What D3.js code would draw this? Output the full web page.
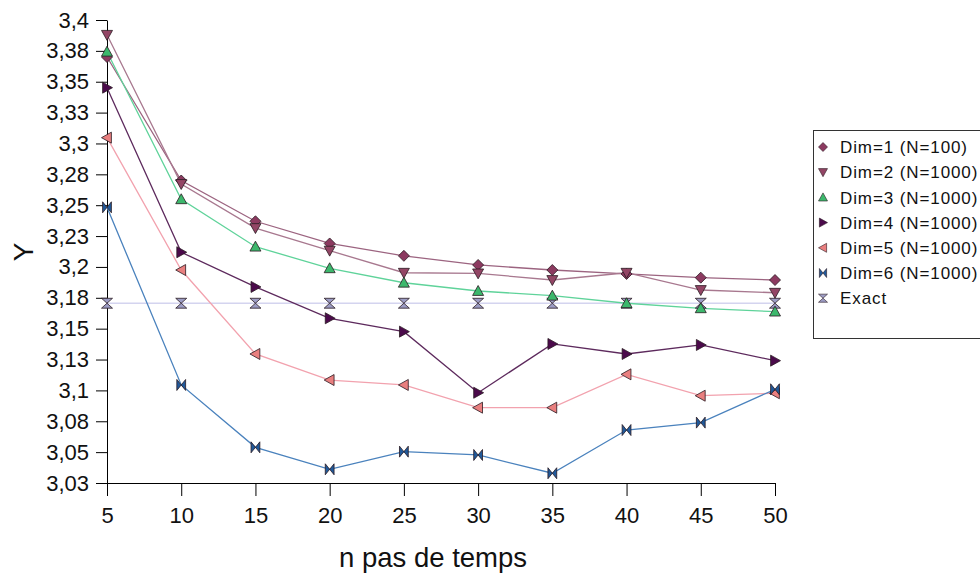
<!DOCTYPE html>
<html>
<head>
<meta charset="utf-8">
<script src="https://cdn.jsdelivr.net/npm/d3@7/dist/d3.min.js"></script>
<style>
  html, body { margin: 0; padding: 0; background: #ffffff; }
  svg { display: block; font-family: "Liberation Sans", Arial, sans-serif; }
</style>
</head>
<body>
<svg id="chart" width="980" height="578"></svg>
<script>
// Time steps on the x axis
const steps = [5, 10, 15, 20, 25, 30, 35, 40, 45, 50];

// Estimated Y for each dimension / sample size
const dim1 = [3.370, 3.270, 3.237, 3.219, 3.209, 3.2016, 3.1975, 3.1943, 3.1913, 3.1894];
const dim2 = [3.388, 3.2672, 3.2315, 3.2132, 3.1953, 3.1948, 3.1894, 3.1953, 3.1813, 3.1791];
const dim3 = [3.3743, 3.2548, 3.2164, 3.1989, 3.1872, 3.1805, 3.1767, 3.1706, 3.1665, 3.1638];
const dim4 = [3.3452, 3.2119, 3.1838, 3.1584, 3.1476, 3.0981, 3.1376, 3.1295, 3.1368, 3.1241];
const dim5 = [3.3047, 3.1975, 3.1295, 3.1084, 3.1044, 3.0860, 3.0860, 3.1130, 3.0957, 3.0977];
const dim6 = [3.2483, 3.1044, 3.0539, 3.0361, 3.0504, 3.0477, 3.0329, 3.0679, 3.0739, 3.1009];
const exact = [3.1706, 3.1706, 3.1706, 3.1706, 3.1706, 3.1706, 3.1706, 3.1706, 3.1706, 3.1706];

const seriesNames = ["Dim=1 (N=100)", "Dim=2 (N=1000)", "Dim=3 (N=1000)", "Dim=4 (N=1000)",
                     "Dim=5 (N=1000)", "Dim=6 (N=1000)", "Exact"];

// Y axis ticks every 0.025, labelled with two decimals (comma separator)
const yTickValues = [3.025, 3.05, 3.075, 3.1, 3.125, 3.15, 3.175, 3.2, 3.225, 3.25,
                     3.275, 3.3, 3.325, 3.35, 3.375, 3.4];
const yTickLabels = ["3,03", "3,05", "3,08", "3,1", "3,13", "3,15", "3,18", "3,2", "3,23", "3,25",
                     "3,28", "3,3", "3,33", "3,35", "3,38", "3,4"];
const xTickLabels = ["5", "10", "15", "20", "25", "30", "35", "40", "45", "50"];

const svg = d3.select("#chart");

const x = d3.scaleLinear().domain([5, 50]).range([107, 775]);
const y = d3.scaleLinear().domain([3.025, 3.4]).range([483, 20]);

// Marker outlines
function markerPath(shape, r) {
  switch (shape) {
    case "diamond": return `M0,${-r}L${r},0L0,${r}L${-r},0Z`;
    case "down": return `M${-r},${-r * 0.8}L${r},${-r * 0.8}L0,${r}Z`;
    case "up": return `M${-r},${r * 0.8}L${r},${r * 0.8}L0,${-r}Z`;
    case "right": return `M${-r * 0.8},${-r}L${r},0L${-r * 0.8},${r}Z`;
    case "left": return `M${r * 0.8},${-r}L${-r},0L${r * 0.8},${r}Z`;
    case "bowtie": return `M${-r * 0.8},${-r}L0,0L${-r * 0.8},${r}Z M${r * 0.8},${-r}L0,0L${r * 0.8},${r}Z`;
    case "hourglass": return `M${-r},${-r * 0.9}L${r},${-r * 0.9}L0,0Z M${-r},${r * 0.9}L${r},${r * 0.9}L0,0Z`;
  }
}

const series = [
  { name: seriesNames[0], values: dim1, shape: "diamond", fill: "#8c3a60", line: "#9c6480" },
  { name: seriesNames[1], values: dim2, shape: "down", fill: "#934565", line: "#a8788f" },
  { name: seriesNames[2], values: dim3, shape: "up", fill: "#3cb86c", line: "#5fd39a" },
  { name: seriesNames[3], values: dim4, shape: "right", fill: "#4b0a4b", line: "#5d2a5d" },
  { name: seriesNames[4], values: dim5, shape: "left", fill: "#e97f7f", line: "#f2a2ae" },
  { name: seriesNames[5], values: dim6, shape: "bowtie", fill: "#20599a", line: "#4a82bd" },
  { name: seriesNames[6], values: exact, shape: "hourglass", fill: "#9c9cc4", line: "#d4d4ef" }
];

// Axes
const yAxis = d3.axisLeft(y)
  .tickValues(yTickValues)
  .tickFormat((d, i) => yTickLabels[i])
  .tickSize(11)
  .tickSizeOuter(0)
  .tickPadding(7);

const xAxis = d3.axisBottom(x)
  .tickValues(steps)
  .tickFormat((d, i) => xTickLabels[i])
  .tickSize(13)
  .tickSizeOuter(0)
  .tickPadding(11);

const gy = svg.append("g").attr("transform", "translate(107,0)").call(yAxis);
gy.selectAll("text").attr("font-size", 22).attr("fill", "#111")
  .style("font-family", "'Liberation Sans', Arial, sans-serif");
gy.selectAll("line, path").attr("stroke", "#000");

const gx = svg.append("g").attr("transform", "translate(0,483)").call(xAxis);
gx.selectAll("text").attr("font-size", 22).attr("fill", "#111")
  .style("font-family", "'Liberation Sans', Arial, sans-serif");
gx.selectAll("line, path").attr("stroke", "#000");

// Lines: the exact reference first, underneath everything
const line = d3.line().x((d, i) => x(steps[i])).y(d => y(d));
const drawOrder = [6, 0, 1, 2, 3, 4, 5];
drawOrder.forEach(k => {
  const s = series[k];
  svg.append("path")
    .attr("d", line(s.values))
    .attr("fill", "none")
    .attr("stroke", s.line)
    .attr("stroke-width", 1.3);
});

// Markers
drawOrder.forEach(k => {
  const s = series[k];
  svg.append("g").selectAll("path")
    .data(s.values)
    .join("path")
    .attr("transform", (d, i) => `translate(${x(steps[i])},${y(d)})`)
    .attr("d", markerPath(s.shape, 5.5))
    .attr("fill", s.fill)
    .attr("stroke", "#2a1a22")
    .attr("stroke-width", 0.8)
    .attr("stroke-linejoin", "round");
});

// Axis titles
svg.append("text")
  .attr("x", 433).attr("y", 567)
  .attr("text-anchor", "middle")
  .attr("font-size", 27.5)
  .attr("fill", "#111")
  .text("n pas de temps");

svg.append("text")
  .attr("transform", "translate(33,252) rotate(-90)")
  .attr("text-anchor", "middle")
  .attr("font-size", 28)
  .attr("fill", "#111")
  .text("Y");

// Legend
const legend = svg.append("g");
legend.append("rect")
  .attr("x", 813.5).attr("y", 130.5)
  .attr("width", 200).attr("height", 208)
  .attr("fill", "#fff")
  .attr("stroke", "#333")
  .attr("stroke-width", 1);

series.forEach((s, i) => {
  const cy = 147 + i * 25.2;
  legend.append("path")
    .attr("transform", `translate(823,${cy})`)
    .attr("d", markerPath(s.shape, 4.5))
    .attr("fill", s.fill)
    .attr("stroke", "#2a1a22")
    .attr("stroke-width", 0.6);
  legend.append("text")
    .attr("x", 840).attr("y", cy)
    .attr("dy", "0.36em")
    .attr("font-size", 17)
    .attr("letter-spacing", 0.9)
    .attr("fill", "#111")
    .text(s.name);
});
</script>
</body>
</html>
